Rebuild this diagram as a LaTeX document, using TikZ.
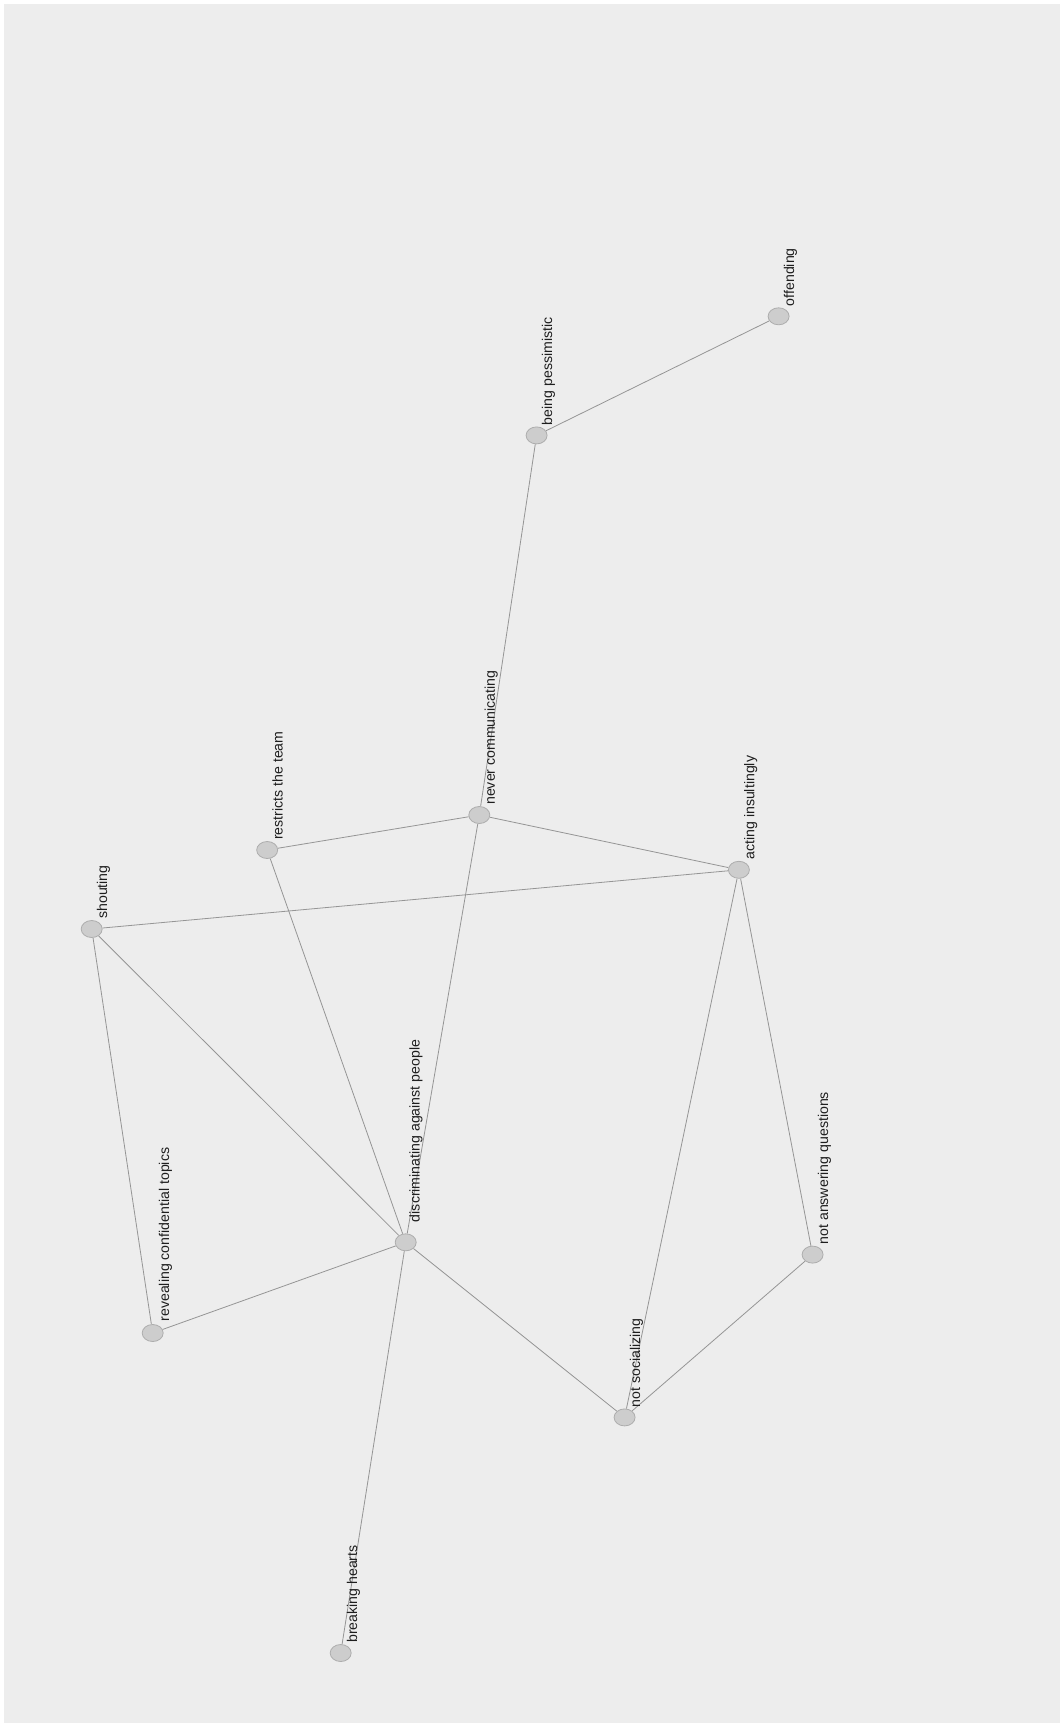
\documentclass[tikz,border=0pt]{standalone}
\usepackage{fontspec}
\setmainfont{Liberation Sans}
\usetikzlibrary{backgrounds,shapes.geometric}
\definecolor{bggray}{HTML}{EDEDED}
\definecolor{nodefill}{HTML}{CDCDCD}
\definecolor{nodeline}{HTML}{ADADAD}
\definecolor{edgecol}{HTML}{959595}
\definecolor{textcol}{HTML}{1E1E1E}
\tikzset{
  vtx/.style={ellipse, minimum width=15.75pt, minimum height=12.75pt, inner sep=0pt, fill=nodefill, draw=nodeline, line width=0.6pt},
  lbl/.style={rotate=90, anchor=north west, inner sep=0pt, text=textcol, font=\fontsize{10.6}{12}\selectfont},
  edge/.style={draw=edgecol, line width=0.6pt}
}
\begin{document}
\begin{tikzpicture}[x=0.75pt, y=-0.75pt]
\useasboundingbox (0,0) rectangle (1060,1725);

\node[vtx] (off) at (778.6,316.3) {};
\node[vtx] (pes) at (536.6,435.4) {};
\node[vtx] (nev) at (479.3,815) {};
\node[vtx] (res) at (267.2,850) {};
\node[vtx] (act) at (738.9,869.8) {};
\node[vtx] (sho) at (91.7,929) {};
\node[vtx] (dis) at (405.7,1242.3) {};
\node[vtx] (rev) at (152.7,1333) {};
\node[vtx] (ans) at (812.6,1254.6) {};
\node[vtx] (soc) at (624.6,1417.4) {};
\node[vtx] (brk) at (340.7,1653) {};

\node[lbl] (offT) at ([xshift=3.75pt,yshift=7.5pt]off.center) {offending};
\node[lbl] (pesT) at ([xshift=3.75pt,yshift=7.5pt]pes.center) {being pessimistic};
\node[lbl] (nevT) at ([xshift=3.75pt,yshift=7.5pt]nev.center) {never communicating};
\node[lbl] (resT) at ([xshift=3.75pt,yshift=7.5pt]res.center) {restricts the team};
\node[lbl] (actT) at ([xshift=3.75pt,yshift=7.5pt]act.center) {acting insultingly};
\node[lbl] (shoT) at ([xshift=3.75pt,yshift=7.5pt]sho.center) {shouting};
\node[lbl] (disT) at ([xshift=2.5pt,yshift=15pt]dis.center) {discriminating against people};
\node[lbl] (revT) at ([xshift=4.5pt,yshift=8.5pt]rev.center) {revealing confidential topics};
\node[lbl] (ansT) at ([xshift=3.75pt,yshift=7.5pt]ans.center) {not answering questions};
\node[lbl] (socT) at ([xshift=3.75pt,yshift=7.5pt]soc.center) {not socializing};
\node[lbl] (brkT) at ([xshift=4.5pt,yshift=7.5pt]brk.center) {breaking hearts};

\begin{scope}[on background layer]
\fill[white] (0,0) rectangle (1060,1725);
\fill[bggray] (4,4) rectangle (1060,1723);
\draw[edge] (off) -- (pes);
\draw[edge] (pes) -- (nev);
\draw[edge] (nev) -- (res);
\draw[edge] (nev) -- (act);
\draw[edge] (nev) -- (dis);
\draw[edge] (res) -- (dis);
\draw[edge] (act) -- (sho);
\draw[edge] (act) -- (soc);
\draw[edge] (act) -- (ans);
\draw[edge] (sho) -- (rev);
\draw[edge] (sho) -- (dis);
\draw[edge] (dis) -- (rev);
\draw[edge] (dis) -- (soc);
\draw[edge] (dis) -- (brk);
\draw[edge] (soc) -- (ans);
\end{scope}
\end{tikzpicture}
\end{document}
